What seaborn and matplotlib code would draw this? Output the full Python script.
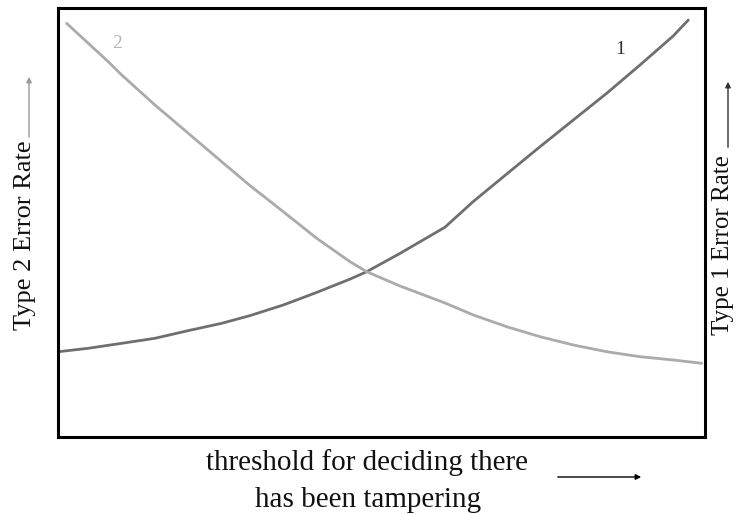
import matplotlib
matplotlib.use("Agg")
import matplotlib.pyplot as plt
import seaborn as sns
import pandas as pd

# Curve 1: Type 1 error rate (rising)
x1 = [0.05, 4.68, 9.85, 14.99, 20.14, 25.30, 29.68, 34.82, 39.98, 45.13, 47.71,
      52.86, 59.81, 64.19, 69.35, 74.50, 79.64, 84.81, 89.95, 95.10, 97.42]
y1 = [19.88, 20.68, 21.84, 23.01, 24.80, 26.50, 28.30, 30.77, 33.70, 36.80, 38.53,
      42.80, 48.90, 54.90, 61.30, 67.67, 73.89, 80.12, 86.71, 93.50, 97.20]
# Curve 2: Type 2 error rate (falling)
x2 = [1.34, 4.68, 7.77, 9.85, 14.99, 20.14, 25.30, 29.68, 34.82, 39.98, 45.13,
      47.71, 52.86, 59.81, 64.19, 69.35, 74.50, 79.64, 84.81, 89.95, 95.10, 99.49]
y2 = [96.43, 91.77, 87.48, 84.38, 77.39, 70.79, 64.17, 58.60, 52.52, 46.32, 40.86,
      38.53, 35.20, 31.24, 28.44, 25.71, 23.38, 21.45, 19.88, 18.72, 17.95, 17.18]

curve_labels = ["1", "2"]
left_label = "Type 2 Error Rate"
right_label = "Type 1 Error Rate"
x_label_lines = ["threshold for deciding there", "has been tampering"]

sns.set_theme(style="white")
plt.rcParams['font.family'] = ['Liberation Serif', 'DejaVu Serif']

W, H = 737, 514
fig = plt.figure(figsize=(W / 100, H / 100), dpi=100)
ax = fig.add_axes([58 / W, 1 - 437 / H, (705 - 58) / W, (437 - 8) / H])

df1 = pd.DataFrame({"x": x1, "y": y1})
df2 = pd.DataFrame({"x": x2, "y": y2})
sns.lineplot(data=df1, x="x", y="y", ax=ax, color="#6f6f6f", linewidth=2.0, sort=False)
sns.lineplot(data=df2, x="x", y="y", ax=ax, color="#ababab", linewidth=2.0, sort=False)

ax.set_xlim(0, 100)
ax.set_ylim(0, 100)
ax.set_xticks([])
ax.set_yticks([])
ax.set_xlabel("")
ax.set_ylabel("")
for s in ax.spines.values():
    s.set_visible(True)
    s.set_color("black")
    s.set_linewidth(2.2)

# curve labels
ax.text((117 - 58) / 6.47, (437 - 43) / 4.29, curve_labels[1], color="#b8b8b8",
        fontsize=14, ha="center", va="center")
ax.text((620 - 58) / 6.47, (437 - 50) / 4.29, curve_labels[0], color="#333333",
        fontsize=14, ha="center", va="center")

# side labels
fig.text(25 / W, 1 - 235 / H, left_label, rotation=90, ha="center", va="center",
         fontsize=19, color="#111111")
fig.text(723 / W, 1 - 245 / H, right_label, rotation=90, ha="center", va="center",
         fontsize=18, color="#111111")

# vertical arrows above side labels
fig.add_artist(matplotlib.patches.FancyArrowPatch((29 / W, 1 - 140 / H), (29 / W, 1 - 74 / H),
               transform=fig.transFigure, arrowstyle="-|>", mutation_scale=8, color="#999999", lw=1))
fig.add_artist(matplotlib.patches.FancyArrowPatch((728 / W, 1 - 150 / H), (728 / W, 1 - 79 / H),
               transform=fig.transFigure, arrowstyle="-|>", mutation_scale=8, color="#333333", lw=1))

# x label
fig.text(367 / W, 1 - 463 / H, x_label_lines[0], ha="center", va="center", fontsize=21, color="#111111")
fig.text(368 / W, 1 - 500 / H, x_label_lines[1], ha="center", va="center", fontsize=21, color="#111111")
fig.add_artist(matplotlib.patches.FancyArrowPatch((555 / W, 1 - 477 / H), (644 / W, 1 - 477 / H),
               transform=fig.transFigure, arrowstyle="-|>", mutation_scale=8, color="black", lw=1))

fig.savefig("out.png", dpi=100)
